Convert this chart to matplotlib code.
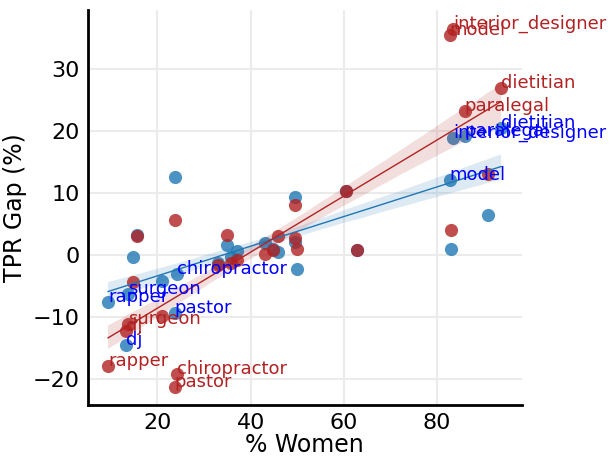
import numpy as np
import matplotlib
matplotlib.use('Agg')
import matplotlib.pyplot as plt
import seaborn as sns

# % mulheres por ocupacao e gap de TPR para os dois modelos
pct_women = [9.4, 13.2, 13.7, 14.8, 15.6, 20.9, 23.7, 23.7, 24.2,
             32.9, 35.0, 35.8, 37.0, 43.0, 44.7, 45.9, 49.4, 49.5, 50.0,
             60.4, 62.9, 82.7, 82.9, 83.4, 85.9, 90.9, 93.7]
gap_blue = [-7.6, -14.4, -6.3, -0.3, 3.3, -4.2, 12.6, -9.3, -3.0,
            -1.2, 1.6, -0.3, 0.6, 2.0, 1.0, 0.5, 9.4, 2.1, -2.2,
            10.3, 0.9, 12.1, 1.0, 18.8, 19.1, 6.5, 20.4]
gap_red = [-17.9, -12.2, -11.1, -4.3, 3.0, -9.8, 5.6, -21.2, -19.1,
           -1.6, 3.2, -1.2, -0.8, 0.2, 0.9, 3.0, 8.1, 2.8, 1.0,
           10.3, 0.8, 35.4, 4.1, 36.4, 23.2, 13.0, 26.8]
names = ['rapper', 'dj', 'surgeon', '', '', '', '', 'pastor', 'chiropractor',
         '', '', '', '', '', '', '', '', '', '',
         '', '', 'model', '', 'interior_designer', 'paralegal', '', 'dietitian']

fig = plt.figure(figsize=(6.1, 4.57), dpi=100)
ax = fig.add_axes([0.1443, 0.1138, 0.7107, 0.8642])

scatter_kw = {'s': 90, 'alpha': 0.8, 'linewidths': 0}
sns.regplot(x=np.array(pct_women), y=np.array(gap_blue), ax=ax, color='tab:blue',
            scatter_kws=scatter_kw, line_kws={'lw': 1}, ci=50, seed=0)
sns.regplot(x=np.array(pct_women), y=np.array(gap_red), ax=ax, color='firebrick',
            scatter_kws=scatter_kw, line_kws={'lw': 1}, ci=50, seed=0)

for x, yb, yr, n in zip(pct_women, gap_blue, gap_red, names):
    if n:
        ax.text(x, yb, n, color='blue', fontsize=13)
        ax.text(x, yr, n, color='firebrick', fontsize=13)

ax.set_xlim(5.1, 98.1)
ax.set_ylim(-24.1, 39.4)
ax.set_xticks([20, 40, 60, 80])
ax.set_yticks([-20, -10, 0, 10, 20, 30])
ax.grid(True, color='#ebebeb', lw=1.5)
ax.set_axisbelow(True)
ax.tick_params(length=0, labelsize=16, pad=6)
for s in ['top', 'right']:
    ax.spines[s].set_visible(False)
for s in ['left', 'bottom']:
    ax.spines[s].set_color('black')
    ax.spines[s].set_linewidth(2)
ax.set_xlabel('% Women', fontsize=17, labelpad=0)
ax.set_ylabel('TPR Gap (%)', fontsize=17)

plt.savefig('out.png', dpi=100)
